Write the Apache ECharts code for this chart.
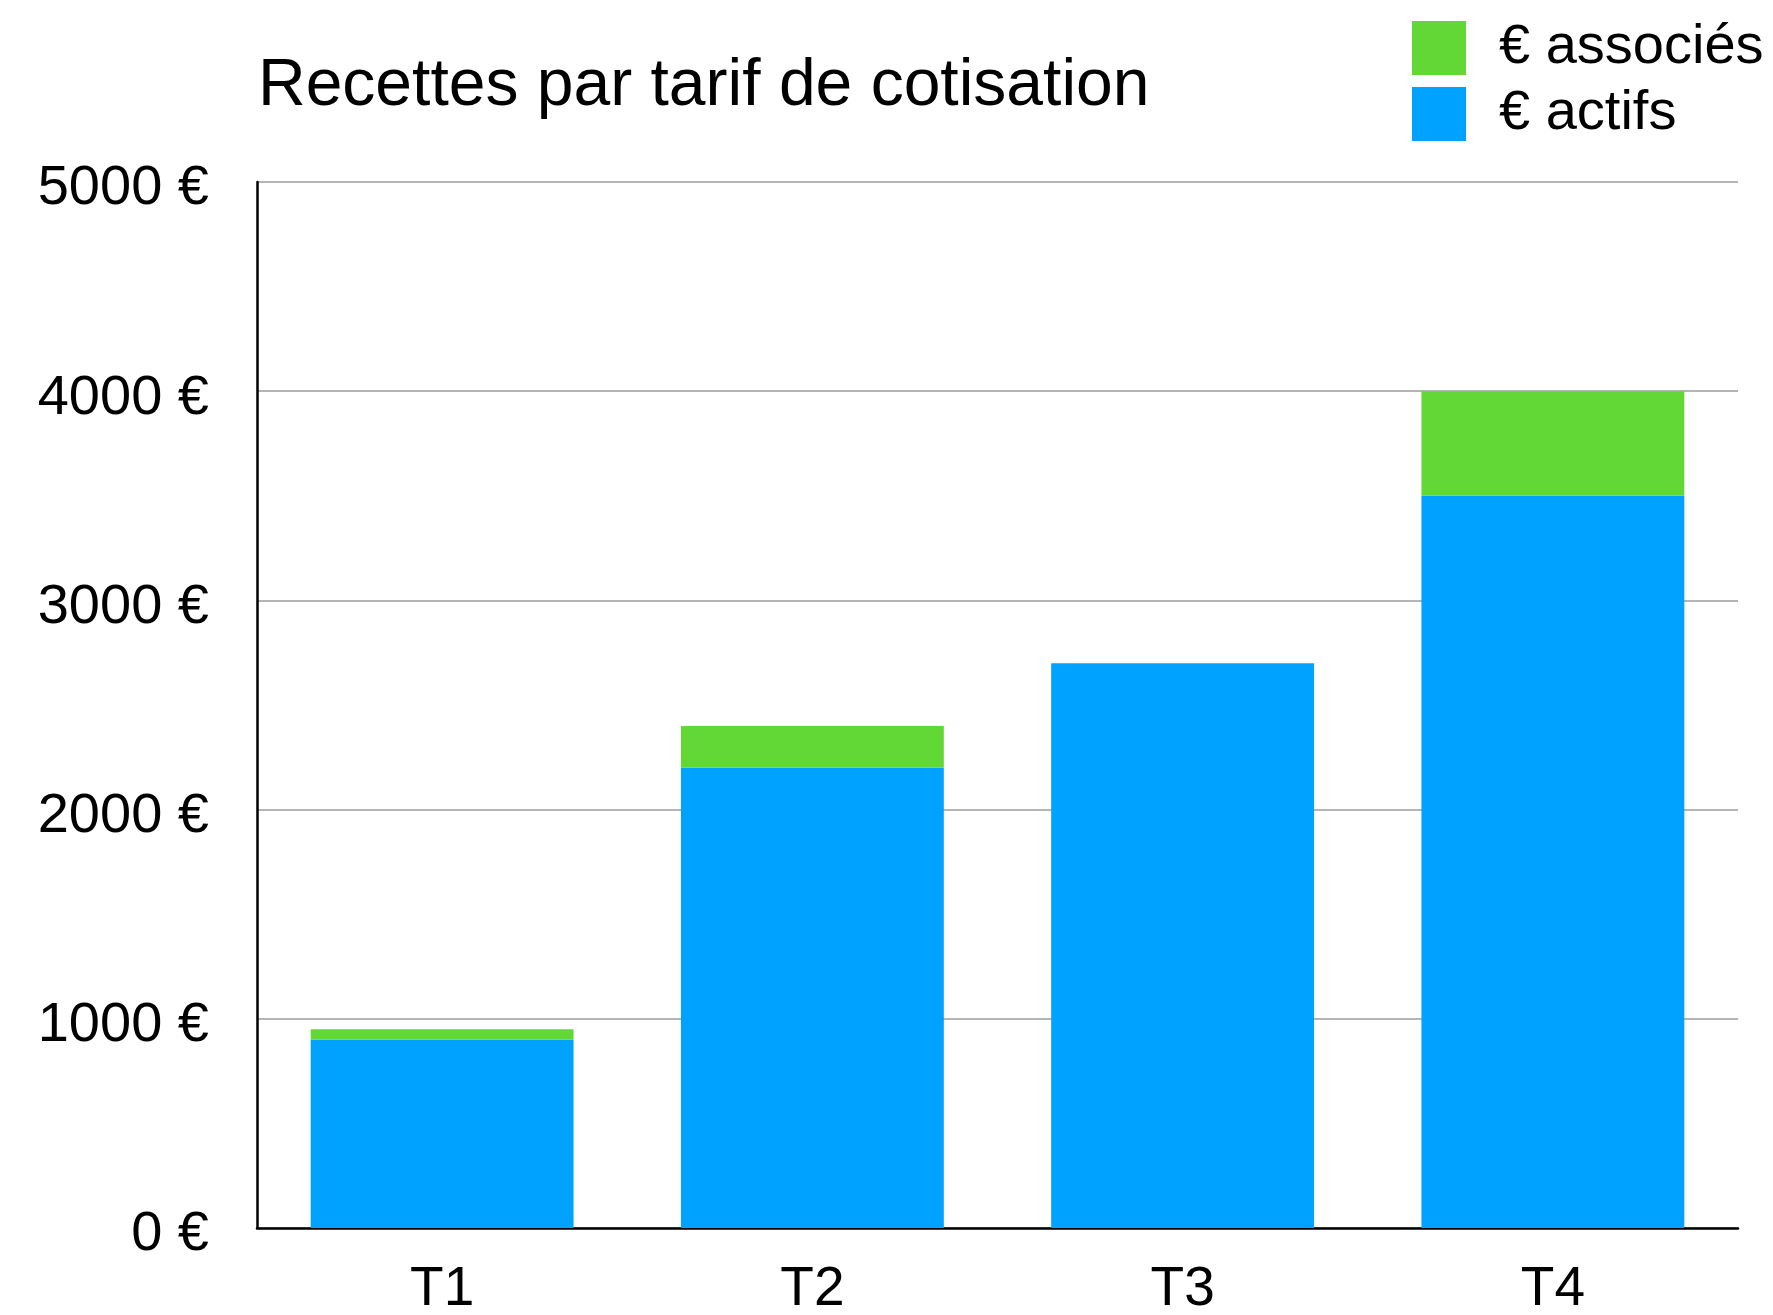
<!DOCTYPE html>
<html>
<head>
<meta charset="utf-8">
<script src="https://cdn.jsdelivr.net/npm/echarts@6/dist/echarts.min.js"></script>
<style>
  html, body { margin: 0; padding: 0; background: #fff; }
  #chart { width: 1773px; height: 1315px; }
</style>
</head>
<body>
<div id="chart"></div>
<script>
const categories = ['T1', 'T2', 'T3', 'T4']
const actifs = [900, 2200, 2700, 3500]
const associes = [50, 200, 0, 500]
const yTicks = { min: 0, max: 5000, interval: 1000 }

const font = '"Liberation Sans", Arial, Helvetica, sans-serif'

const chart = echarts.init(document.getElementById('chart'))

const option = {
  animation: false,
  backgroundColor: '#ffffff',
  textStyle: { fontFamily: font, color: '#000' },
  title: {
    text: 'Recettes par tarif de cotisation',
    left: 253,
    top: 49,
    textStyle: { fontFamily: font, fontSize: 66, fontWeight: 'normal', color: '#000' }
  },
  legend: {
    orient: 'vertical',
    left: 1407,
    top: 15,
    itemWidth: 54,
    itemHeight: 54,
    itemGap: 10,
    icon: 'rect',
    data: ['€ associés', '€ actifs'],
    textStyle: { fontFamily: font, fontSize: 56, color: '#000', padding: [0, 0, 0, 28] }
  },
  grid: { left: 257, right: 35, top: 182, bottom: 87, containLabel: false, outerBoundsMode: 'none' },
  xAxis: {
    type: 'category',
    data: categories,
    axisLine: { lineStyle: { color: '#000', width: 2.5 } },
    axisTick: { show: false },
    axisLabel: { fontFamily: font, fontSize: 55, color: '#000', margin: 34 }
  },
  yAxis: {
    type: 'value',
    min: yTicks.min,
    max: yTicks.max,
    interval: yTicks.interval,
    axisLine: { show: true, lineStyle: { color: '#000', width: 2.5 } },
    axisTick: { show: false },
    splitLine: { lineStyle: { color: '#b4b4b4', width: 2 } },
    axisLabel: {
      color: '#000', margin: 48,
      formatter: v => '{v|' + v + ' €}',
      rich: {
        v: { fontFamily: font, fontSize: 56, color: '#000', padding: [14, 0, 0, 0] }
      }
    }
  },
  series: [
    {
      name: '€ actifs',
      type: 'bar',
      stack: 'total',
      barCategoryGap: '29%',
      itemStyle: { color: '#00a2ff' },
      data: actifs
    },
    {
      name: '€ associés',
      type: 'bar',
      stack: 'total',
      barCategoryGap: '29%',
      itemStyle: { color: '#62d836' },
      data: associes
    }
  ]
}

chart.setOption(option)
</script>
</body>
</html>
